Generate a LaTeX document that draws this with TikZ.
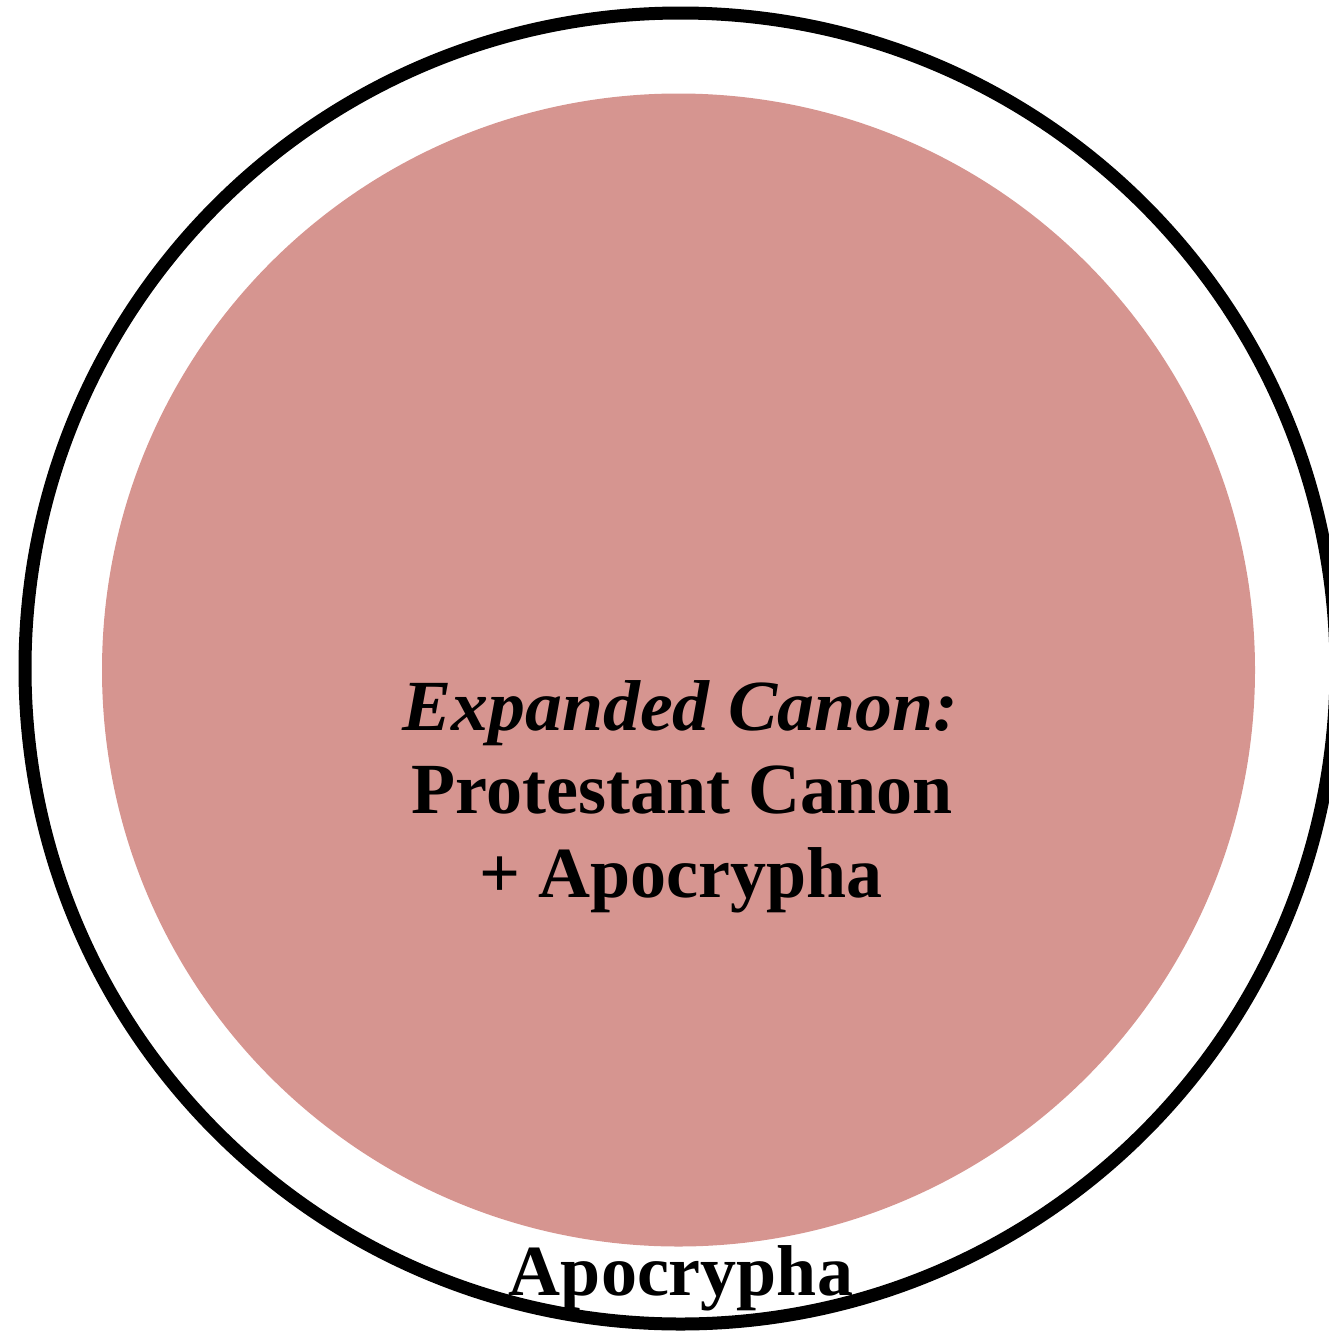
\documentclass[tikz,border=0pt]{standalone}
\usepackage{fontspec}
\usepackage{graphicx}
\setmainfont{Liberation Serif}
\definecolor{canonpink}{RGB}{214,149,144}
\begin{document}
\begin{tikzpicture}[x=1pt,y=-1pt,
  lbl/.style={anchor=base, inner sep=0pt, font=\fontsize{72}{86}\selectfont\bfseries}]
\useasboundingbox (0,0) rectangle (1329,1331);
\node[circle, draw=black, line width=13pt, minimum size=1311pt, inner sep=0pt] (outer) at (680.5,668.5) {};
\node[circle, fill=canonpink, minimum size=1153pt, inner sep=0pt] (inner) at (678.5,670) {};
\node[lbl] (l1) at (680,730) {\scalebox{1.025}[1]{\itshape Expanded Canon:}};
\node[lbl] (l2) at (682,813) {Protestant Canon};
\node[lbl] (l3) at (681,897) {+ Apocrypha};
\node[lbl] (apo) at (681,1295) {Apocrypha};
\end{tikzpicture}
\end{document}
